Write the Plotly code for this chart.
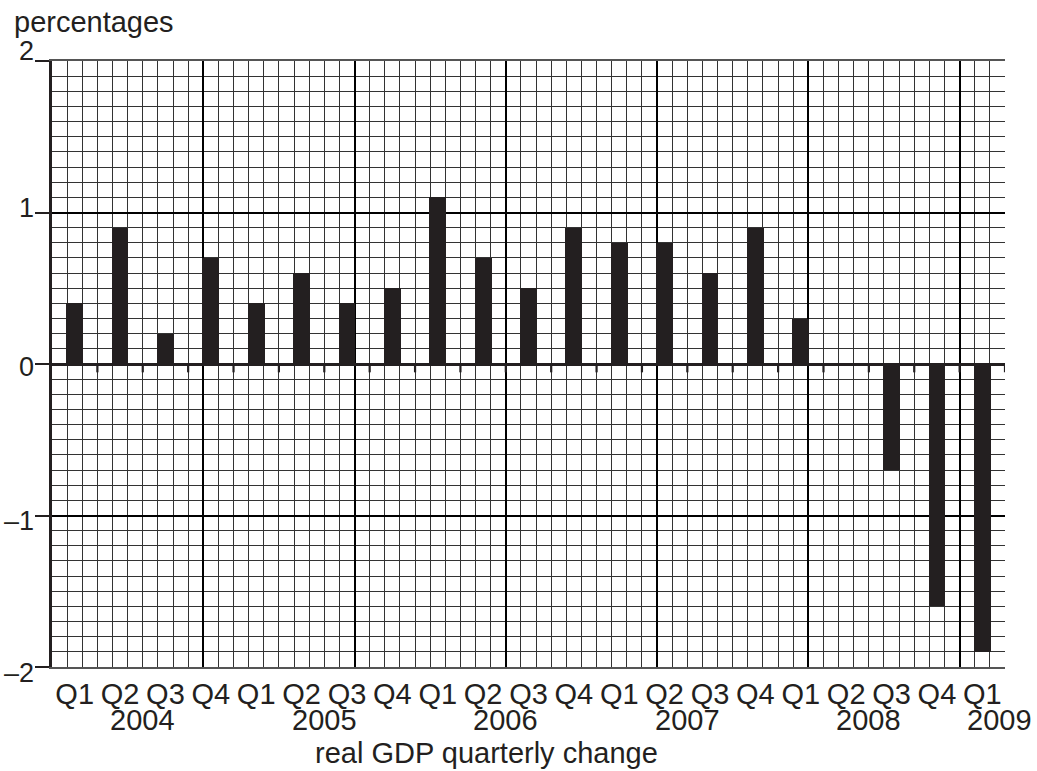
import plotly.graph_objects as go

quarters = ["Q1", "Q2", "Q3", "Q4", "Q1", "Q2", "Q3", "Q4", "Q1", "Q2", "Q3", "Q4",
            "Q1", "Q2", "Q3", "Q4", "Q1", "Q2", "Q3", "Q4", "Q1"]
values = [0.4, 0.9, 0.2, 0.7, 0.4, 0.6, 0.4, 0.5, 1.1, 0.7, 0.5, 0.9,
          0.8, 0.8, 0.6, 0.9, 0.3, 0.0, -0.7, -1.6, -1.9]
years = ["2004", "2005", "2006", "2007", "2008", "2009"]
year_pos = [1.5, 5.5, 9.5, 13.5, 17.5, 20.37]
y_tickvals = [-2, -1, 0, 1, 2]
y_ticktext = ["\u20132", "\u20131", "0", "1", "2"]
y_label_shift = [-6, -5, -3, 5, 10]

n = len(values)
xs = list(range(n))
FONT = "Liberation Sans, Arial, Helvetica, sans-serif"
INK = "#231f20"
FS = 29

W, H = 1037, 771
PL, PR, PT, PB = 52, 32, 61, 104
pw = W - PL - PR
ph = H - PT - PB

fig = go.Figure()
fig.add_trace(go.Scatter(x=[-0.5, n - 0.5], y=[0, 0], mode="markers",
                         marker=dict(opacity=0), hoverinfo="skip",
                         showlegend=False, xaxis="x", yaxis="y"))
fig.add_trace(go.Bar(x=xs, y=values, width=0.37, marker=dict(color=INK, line=dict(width=0)),
                     showlegend=False, xaxis="x2", yaxis="y"))

xr = [-0.5, n - 0.5]
fig.update_layout(
    width=W, height=H,
    margin=dict(l=PL, r=PR, t=PT, b=PB, autoexpand=False),
    paper_bgcolor="white", plot_bgcolor="white",
    font=dict(family=FONT, size=FS, color=INK),
    xaxis=dict(range=xr, tick0=-0.5, dtick=10 / 3, showgrid=True, gridcolor="#000",
               gridwidth=1.8, showticklabels=False, ticks="", zeroline=False, automargin=False,
               showline=True, linecolor="#555", linewidth=2, mirror=True,
               minor=dict(tick0=-0.5, dtick=1 / 3, showgrid=True, gridcolor="#333", gridwidth=1.3)),
    xaxis2=dict(range=xr, overlaying="x", side="bottom", tickmode="array", automargin=False,
                tickvals=xs, ticktext=quarters, showgrid=False, zeroline=False,
                ticks="", ticklabelstandoff=7, tickfont=dict(size=FS, color=INK, family=FONT)),
    yaxis=dict(range=[-2, 2], tickmode="array", tickvals=y_tickvals, showticklabels=False,
               showgrid=True, gridcolor="#000", gridwidth=1.8, automargin=False,
               minor=dict(dtick=0.1, showgrid=True, gridcolor="#333", gridwidth=1.3),
               zeroline=True, zerolinecolor=INK, zerolinewidth=2.8,
               showline=True, linecolor=INK, linewidth=2.8, mirror=False,
               ticks="outside", ticklen=14, tickwidth=2, tickcolor=INK),
    bargap=0,
)

shapes = []
for k in range(1, n + 1):
    shapes.append(dict(type="line", xref="x", yref="y", x0=k - 0.5, x1=k - 0.5,
                       y0=0, y1=-0.055, line=dict(color=INK, width=2.2)))
fig.update_layout(shapes=shapes)

annotations = []
for v, t, s in zip(y_tickvals, y_ticktext, y_label_shift):
    annotations.append(dict(text=t, xref="paper", yref="y", x=(36 - PL) / pw, y=v, yshift=s,
                            xanchor="right", yanchor="middle", showarrow=False,
                            font=dict(size=27, color=INK, family=FONT)))
for yr, p in zip(years, year_pos):
    annotations.append(dict(text=yr, xref="x", yref="paper", x=p, y=-(720 - 667) / ph,
                            xanchor="center", yanchor="middle", showarrow=False,
                            font=dict(size=FS, color=INK, family=FONT)))
annotations.append(dict(text="real GDP quarterly change", xref="paper", yref="paper",
                        x=(486 - PL) / pw, y=-(753 - 667) / ph, xanchor="center", yanchor="middle",
                        showarrow=False, font=dict(size=FS, color=INK, family=FONT)))
annotations.append(dict(text="percentages", xref="paper", yref="paper",
                        x=(12 - PL) / pw, y=1 + (61 - 22) / ph, xanchor="left", yanchor="middle",
                        showarrow=False, font=dict(size=FS, color=INK, family=FONT)))
fig.update_layout(annotations=annotations)

fig.write_html("out.html", config={"displayModeBar": False},
               post_script="document.body.style.margin='0';")
